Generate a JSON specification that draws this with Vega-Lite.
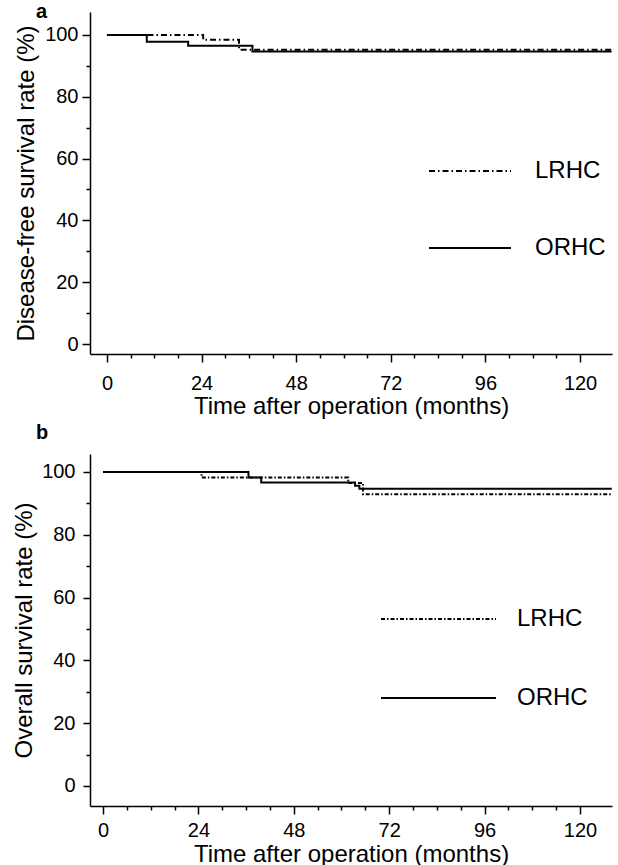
{
  "$schema": "https://vega.github.io/schema/vega-lite/v6.json",
  "padding": {"left": 12, "top": 2, "right": 4, "bottom": 0},
  "autosize": {"type": "pad"},
  "background": "white",
  "columns": 1,
  "align": "none",
  "spacing": 5,
  "resolve": {"scale": {"strokeDash": "independent"}, "legend": {"strokeDash": "independent"}},
  "config": {
    "font": "Liberation Sans",
    "view": {"stroke": null},
    "axis": {"domainColor": "black", "domainWidth": 1.5, "tickColor": "black", "tickWidth": 1.5, "labelColor": "black", "titleColor": "black", "labelFont": "Liberation Sans", "titleFont": "Liberation Sans", "labelFontSize": 20, "titleFontSize": 24, "titleFontWeight": "normal", "grid": false, "labelOverlap": false, "labelFlush": false},
    "legend": {"orient": "none", "title": null, "symbolType": "stroke", "symbolStrokeColor": "black", "symbolStrokeWidth": 2, "labelFont": "Liberation Sans", "labelFontSize": 24, "labelColor": "black", "padding": 0, "clipHeight": 30},
    "title": {"font": "Liberation Sans", "fontWeight": "bold", "fontSize": 20, "color": "black"}
  },
  "datasets": {
    "dfs": [
      {"group": "LRHC", "month": 0, "rate": 100},
      {"group": "LRHC", "month": 24.4, "rate": 98.4},
      {"group": "LRHC", "month": 33.5, "rate": 95.2},
      {"group": "LRHC", "month": 128, "rate": 95.2},
      {"group": "ORHC", "month": 0, "rate": 100},
      {"group": "ORHC", "month": 10.1, "rate": 97.8},
      {"group": "ORHC", "month": 20.6, "rate": 96.5},
      {"group": "ORHC", "month": 36.9, "rate": 94.6},
      {"group": "ORHC", "month": 128, "rate": 94.6}
    ],
    "os": [
      {"group": "LRHC", "month": 0, "rate": 100},
      {"group": "LRHC", "month": 24.8, "rate": 98.2},
      {"group": "LRHC", "month": 61.7, "rate": 96.5},
      {"group": "LRHC", "month": 65.4, "rate": 92.9},
      {"group": "LRHC", "month": 128, "rate": 92.9},
      {"group": "ORHC", "month": 0, "rate": 100},
      {"group": "ORHC", "month": 36.6, "rate": 98.2},
      {"group": "ORHC", "month": 39.8, "rate": 96.6},
      {"group": "ORHC", "month": 63.4, "rate": 95.6},
      {"group": "ORHC", "month": 64.5, "rate": 94.6},
      {"group": "ORHC", "month": 128, "rate": 94.6}
    ]
  },
  "concat": [
    {
      "width": 522,
      "height": 342,
      "data": {"name": "dfs"},
      "title": {"text": "a", "anchor": "start", "frame": "group", "dx": -54, "offset": -30, "baseline": "bottom"},
      "mark": {"type": "line", "interpolate": "step-after", "color": "black", "strokeWidth": 2},
      "encoding": {
        "x": {
          "field": "month", "type": "quantitative",
          "scale": {"domain": [-4.3, 128.1], "nice": false, "zero": false},
          "axis": {
            "title": "Time after operation (months)",
            "values": [0, 6, 12, 18, 24, 30, 36, 42, 48, 54, 60, 66, 72, 78, 84, 90, 96, 102, 108, 114, 120],
            "labelExpr": "datum.value % 24 === 0 ? datum.label : ''",
            "tickSize": {"condition": {"test": "datum.value % 24 === 0", "value": 8}, "value": 4},
            "labelPadding": 11, "titlePadding": 1
          }
        },
        "y": {
          "field": "rate", "type": "quantitative",
          "scale": {"domain": [-3.2, 107.4], "nice": false, "zero": false},
          "axis": {
            "title": "Disease-free survival rate (%)",
            "values": [0, 10, 20, 30, 40, 50, 60, 70, 80, 90, 100],
            "labelExpr": "datum.value % 20 === 0 ? datum.label : ''",
            "tickSize": {"condition": {"test": "datum.value % 20 === 0", "value": 8}, "value": 4},
            "labelPadding": 4, "titlePadding": 6
          }
        },
        "strokeDash": {
          "field": "group", "type": "nominal",
          "scale": {"domain": ["LRHC", "ORHC"], "range": [[6, 3, 1.5, 3], [1, 0]]},
          "legend": {"legendX": 338, "legendY": 144, "symbolSize": 6724, "labelOffset": 23, "rowPadding": 47}
        }
      }
    },
    {
      "width": 522,
      "height": 352,
      "data": {"name": "os"},
      "title": {"text": "b", "anchor": "start", "frame": "group", "dx": -54, "offset": -9, "baseline": "bottom"},
      "mark": {"type": "line", "interpolate": "step-after", "color": "black", "strokeWidth": 2},
      "encoding": {
        "x": {
          "field": "month", "type": "quantitative",
          "scale": {"domain": [-3.27, 128.05], "nice": false, "zero": false},
          "axis": {
            "title": "Time after operation (months)",
            "values": [0, 6, 12, 18, 24, 30, 36, 42, 48, 54, 60, 66, 72, 78, 84, 90, 96, 102, 108, 114, 120],
            "labelExpr": "datum.value % 24 === 0 ? datum.label : ''",
            "tickSize": {"condition": {"test": "datum.value % 24 === 0", "value": 8}, "value": 4},
            "labelPadding": 6, "titlePadding": 2
          }
        },
        "y": {
          "field": "rate", "type": "quantitative",
          "scale": {"domain": [-6.4, 105.7], "nice": false, "zero": false},
          "axis": {
            "title": "Overall survival rate (%)",
            "values": [0, 10, 20, 30, 40, 50, 60, 70, 80, 90, 100],
            "labelExpr": "datum.value % 20 === 0 ? datum.label : ''",
            "tickSize": {"condition": {"test": "datum.value % 20 === 0", "value": 7}, "value": 4},
            "labelPadding": 8, "titlePadding": 5.6
          }
        },
        "strokeDash": {
          "field": "group", "type": "nominal",
          "scale": {"domain": ["LRHC", "ORHC"], "range": [[4, 2, 1.5, 2], [1, 0]]},
          "legend": {"legendX": 290, "legendY": 150, "symbolSize": 13225, "labelOffset": 20, "rowPadding": 49}
        }
      }
    }
  ]
}
